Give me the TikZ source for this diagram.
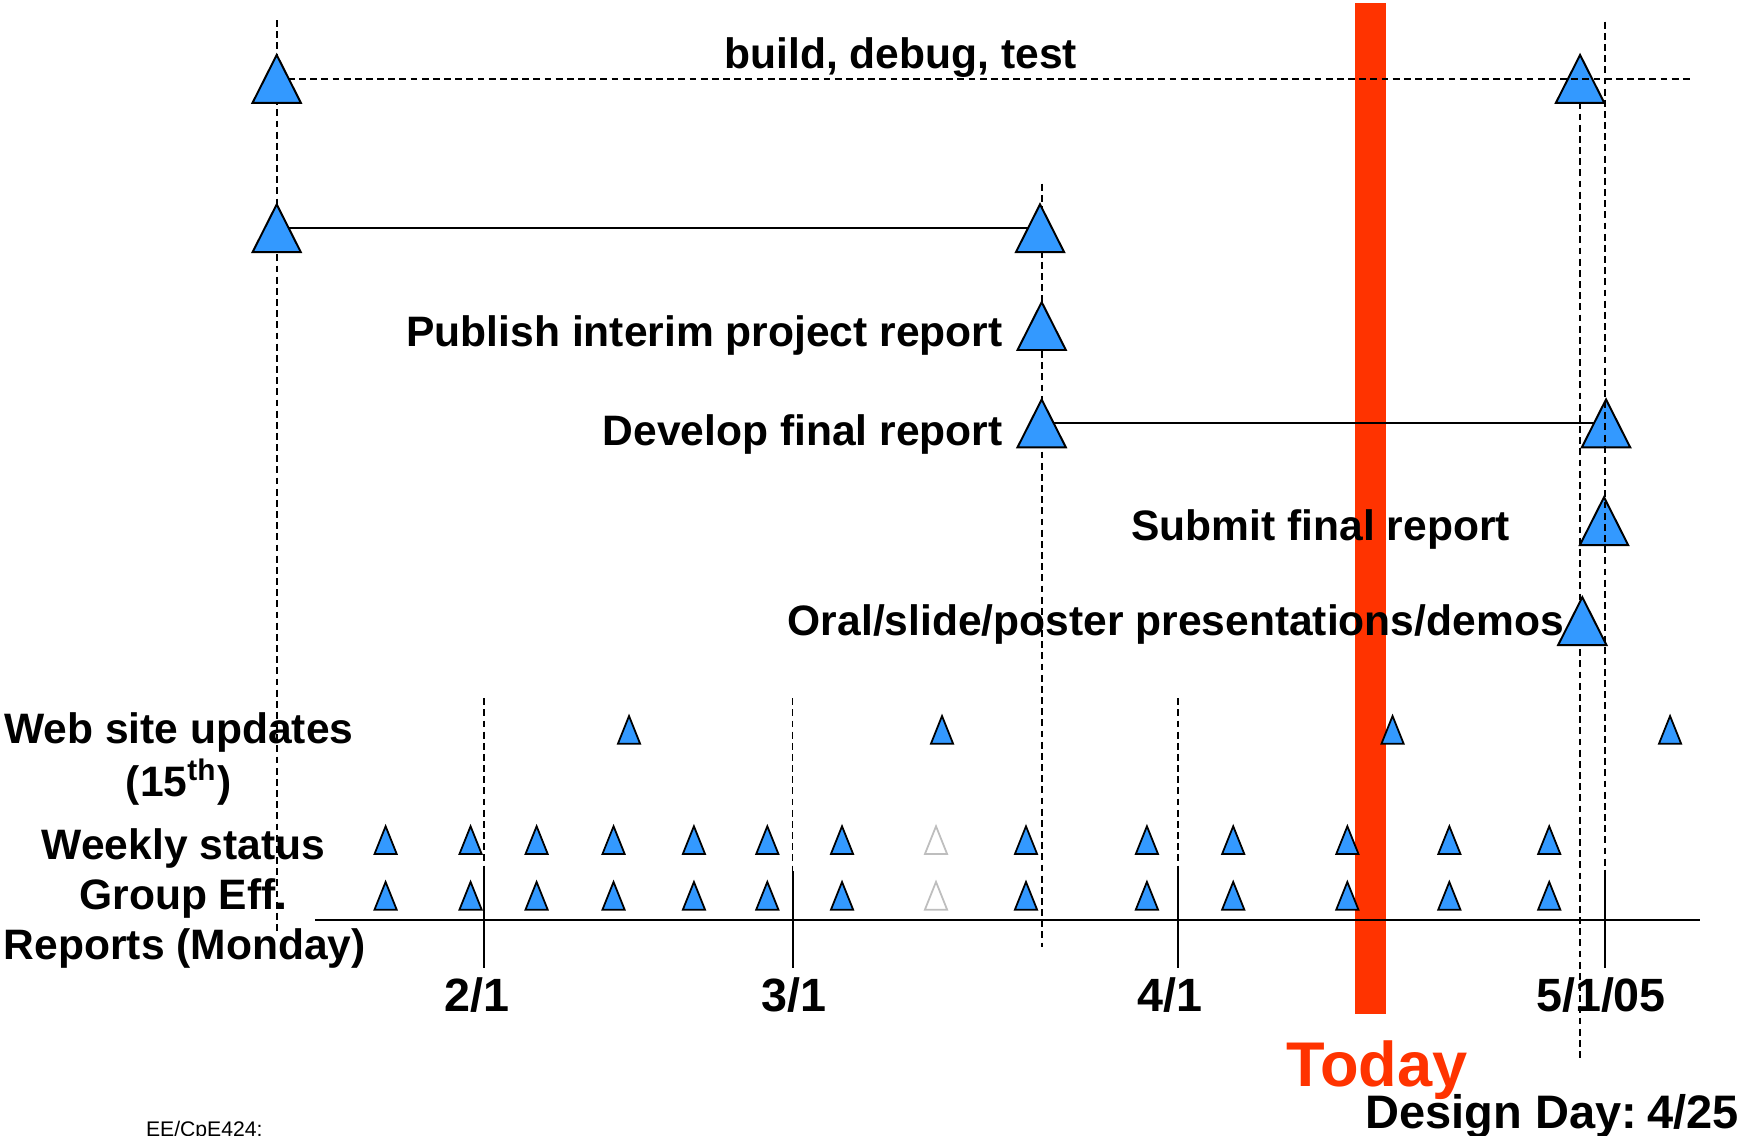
\documentclass[tikz,border=0pt]{standalone}
\usepackage{fontspec}
\setmainfont{Liberation Sans}
\definecolor{triblue}{RGB}{51,153,255}
\definecolor{todayred}{RGB}{255,51,0}
\definecolor{hollowgray}{RGB}{190,190,190}
\tikzset{
  dline/.style={line width=0.45pt, dash pattern=on 1.75pt off 1.1pt},
  sline/.style={line width=0.5pt},
  lbl/.style={inner sep=0pt, font=\fontsize{10.87}{13}\selectfont\bfseries},
  datelbl/.style={inner sep=0pt, anchor=base, font=\fontsize{11.92}{14}\selectfont\bfseries},
  bigtri/.pic={\draw[fill=triblue, line width=0.5pt] (-21.7,21.5) -- (0,-21.5) -- (21.7,21.5) -- cycle; \coordinate (-c) at (0,0);},
  smalltri/.pic={\draw[fill=triblue, line width=0.45pt] (-10,12.5) -- (0,-12.5) -- (10,12.5) -- cycle; \coordinate (-c) at (0,0);},
  hollowtri/.pic={\draw[draw=hollowgray, fill=white, line width=0.45pt] (-10,12.5) -- (0,-12.5) -- (10,12.5) -- cycle; \coordinate (-c) at (0,0);}
}
\begin{document}
\begin{tikzpicture}[x=0.01cm,y=-0.01cm]
\useasboundingbox (0,0) rectangle (1568,1020);
% Today bar
\fill[todayred] (1216.5,3) rectangle (1245.1,911);

% milestone centres
\coordinate (bt1) at (248.5,70.8);
\coordinate (bt2) at (248.5,205);
\coordinate (bt3) at (934,205);
\coordinate (bt4) at (935.5,292.8);
\coordinate (bt5) at (935.5,380.2);
\coordinate (bt6) at (1442.3,380.2);
\coordinate (bt7) at (1440.5,468);
\coordinate (bt8) at (1421,557.8);
\coordinate (bt9) at (1419,70.8);
\coordinate (tend) at (1519.5,70.8);

\pic (T9) at (bt9) {bigtri};

% guide lines under the milestones
\coordinate (ltop) at (248.5,18);   \coordinate (lbot) at (248.5,838);
\coordinate (mtop) at (935.5,165);  \coordinate (mbot) at (935.5,850);
\coordinate (otop) at (1419,92);    \coordinate (obot) at (1419,952);
\draw[dline] (ltop) -- (lbot);
\draw[dline] (mtop) -- (mbot);
\draw[dline] (otop) -- (obot);
\draw[dline] (bt1) -- (tend);
\draw[sline] (bt2) -- (bt3);
\draw[sline] (bt5) -- (bt6);

% month lines
\foreach \mx/\mn in {434.5/feb,711.8/mar,1058/apr}{
  \coordinate (\mn top) at (\mx,627);
  \coordinate (\mn mid) at (\mx,782);
  \coordinate (\mn bot) at (\mx,869);
  \draw[dline] (\mn top) -- (\mn mid);
  \draw[sline] (\mn mid) -- (\mn bot);
}
% axis
\coordinate (axl) at (283,826.2);
\coordinate (axr) at (1527,826.2);
\draw[line width=0.5pt] (axl) -- (axr);

% milestones
\pic (T1) at (bt1) {bigtri};
\pic (T2) at (bt2) {bigtri};
\pic (T3) at (bt3) {bigtri};
\pic (T4) at (bt4) {bigtri};
\pic (T5) at (bt5) {bigtri};
\pic (T6) at (bt6) {bigtri};
\pic (T7) at (bt7) {bigtri};
\pic (T8) at (bt8) {bigtri};

% web site updates
\foreach \wx [count=\i] in {564.9,846,1250.6,1499.8}{
  \pic (W\i) at (\wx,655.5) {smalltri};
}
% weekly status and group effectiveness
\foreach \sx [count=\i] in {346.3,422.6,481.9,551,623.2,689.1,756.2,921.4,1030,1107.5,1210,1301.6,1391.3}{
  \pic (S\i) at (\sx,754.5) {smalltri};
  \pic (G\i) at (\sx,804.5) {smalltri};
}
\pic (Shollow) at (840.6,754.5) {hollowtri};
\pic (Ghollow) at (840.6,804.5) {hollowtri};

% 5/1 line over the milestones
\coordinate (mayt) at (1441.7,19.5);
\coordinate (maym) at (1441.7,781);
\coordinate (mayb) at (1441.7,869);
\draw[dline] (mayt) -- (maym);
\draw[sline] (maym) -- (mayb);

% labels
\node[lbl, anchor=base] (build) at (809,61.4) {build, debug, test};
\node[lbl, anchor=base east] (publish) at (901,311.3) {Publish interim project report};
\node[lbl, anchor=base east] (develop) at (901,400.2) {Develop final report};
\node[lbl, anchor=base west] (submit) at (1015.5,485.6) {Submit final report};
\node[lbl, anchor=base east] (oral) at (1405,570.3) {Oral/slide/poster presentations/demos};
\node[lbl, anchor=base] (web) at (160.6,668) {Web site updates};
\node[lbl, anchor=base] (fifteenth) at (160.6,715) {(15\textsuperscript{th})};
\node[lbl, anchor=base] (weekly) at (164.7,771.7) {Weekly status};
\node[lbl, anchor=base] (groupeff) at (164.7,816.6) {Group Eff.};
\node[lbl, anchor=base] (reports) at (166,861.5) {Reports (Monday)};

\node[datelbl] (feb) at (428,908.6) {2/1};
\node[datelbl] (mar) at (713,908.6) {3/1};
\node[datelbl] (apr) at (1051,908.6) {4/1};
\node[datelbl] (may) at (1437.8,908.6) {5/1/05};

\node[inner sep=0pt, anchor=base, text=todayred, font=\fontsize{16.13}{19}\selectfont\bfseries] (today) at (1236.4,976) {Today};
\node[inner sep=0pt, anchor=base west, font=\fontsize{12}{14}\selectfont\bfseries] (dday) at (1225.5,1013.3) {Design Day:\kern-0.06em\ 4/25};
\node[inner sep=0pt, anchor=base west, font=\fontsize{5.4}{6.5}\selectfont] (course) at (130.5,1020.5) {EE/CpE424:};
\end{tikzpicture}
\end{document}
